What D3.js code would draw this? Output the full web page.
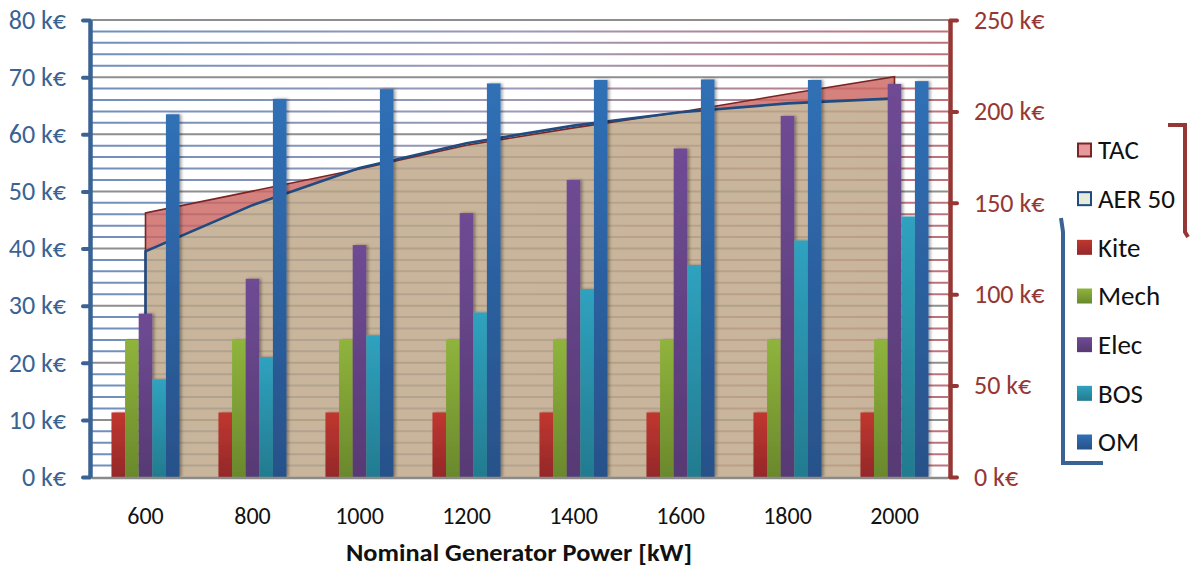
<!DOCTYPE html>
<html>
<head>
<meta charset="utf-8">
<script src="https://cdn.jsdelivr.net/npm/d3@7"></script>
<style>
  html, body { margin: 0; padding: 0; background: #fff; }
  svg { display: block; font-family: Carlito, Lato, "Open Sans", sans-serif; }
</style>
</head>
<body>
<svg id="chart" width="1192" height="568"></svg>
<script>
// ---- data ----
const categories = ["600", "800", "1000", "1200", "1400", "1600", "1800", "2000"];
const kite = [11.3, 11.3, 11.3, 11.3, 11.3, 11.3, 11.3, 11.3];
const mech = [24.0, 24.0, 24.0, 24.0, 24.0, 24.0, 24.0, 24.0];
const elec = [28.6, 34.7, 40.6, 46.2, 52.0, 57.5, 63.2, 68.8];
const bos  = [17.1, 21.0, 24.8, 28.8, 32.9, 37.1, 41.4, 45.6];
const om   = [63.5, 66.2, 67.9, 68.9, 69.5, 69.6, 69.5, 69.3];
const tac   = [144.5, 156.4, 168.5, 181.5, 191.0, 199.7, 209.5, 219.0];
const aer50 = [123.5, 148.7, 169.0, 182.6, 192.2, 199.5, 204.4, 207.1];
const barSeries = ["Kite", "Mech", "Elec", "BOS", "OM"];
const leftTicks = [0, 10, 20, 30, 40, 50, 60, 70, 80];
const rightTicks = [0, 50, 100, 150, 200, 250];
const legendNames = ["TAC", "AER 50", "Kite", "Mech", "Elec", "BOS", "OM"];
const xTitle = "Nominal Generator Power [kW]";

const barData = [kite, mech, elec, bos, om];
const barColors = {
  Kite: ["#c0372f", "#94282a"],
  Mech: ["#8fb43c", "#6a882c"],
  Elec: ["#6f4b94", "#573a74"],
  BOS:  ["#2fa2bf", "#237b8f"],
  OM:   ["#3070b6", "#285189"]
};

// ---- layout ----
const svg = d3.select("#chart");
const L = 92, R = 948, T = 20, B = 477;

const x = d3.scaleBand().domain(categories).range([L, R]).paddingInner(0.364).paddingOuter(0.182);
const xs = d3.scaleBand().domain(barSeries).range([0, x.bandwidth()]);
const yL = d3.scaleLinear().domain([0, 80]).range([B, T]);
const yR = d3.scaleLinear().domain([0, 250]).range([B, T]);
const cx = c => x(c) + x.bandwidth() / 2;

const defs = svg.append("defs");
const gg = defs.append("linearGradient").attr("id", "gridGrad")
  .attr("gradientUnits", "userSpaceOnUse").attr("x1", L).attr("x2", R).attr("y1", 0).attr("y2", 0);
gg.append("stop").attr("offset", 0).attr("stop-color", "#587cb2");
gg.append("stop").attr("offset", 0.5).attr("stop-color", "#8c88aa");
gg.append("stop").attr("offset", 1).attr("stop-color", "#b65862");

barSeries.forEach(s => {
  const g = defs.append("linearGradient").attr("id", "bg" + s).attr("x1", 0).attr("x2", 0).attr("y1", 0).attr("y2", 1);
  g.append("stop").attr("offset", 0).attr("stop-color", barColors[s][0]);
  g.append("stop").attr("offset", 1).attr("stop-color", barColors[s][1]);
});
const sh = defs.append("filter").attr("id", "shadow").attr("x", "-50%").attr("y", "-10%").attr("width", "200%").attr("height", "120%");
sh.append("feDropShadow").attr("dx", 2).attr("dy", 0).attr("stdDeviation", 1.6)
  .attr("flood-color", "#000").attr("flood-opacity", 0.35);

// ---- gridlines ----
const minor = d3.range(0, 80.001, 2).filter(v => v % 10 !== 0);
svg.append("g").selectAll("line").data(minor).join("line")
  .attr("x1", L).attr("x2", R).attr("y1", d => yL(d)).attr("y2", d => yL(d))
  .attr("stroke", "url(#gridGrad)").attr("stroke-width", 2).attr("opacity", 0.85);
svg.append("g").selectAll("line").data(leftTicks.filter(v => v > 0)).join("line")
  .attr("x1", L).attr("x2", R).attr("y1", d => yL(d)).attr("y2", d => yL(d))
  .attr("stroke", "#8e8e8e").attr("stroke-width", 2);

// ---- areas ----
const idx = categories.map((c, i) => i);
const areaOf = arr => d3.area().x(i => cx(categories[i])).y0(yR(0)).y1(i => yR(arr[i]))(idx);
defs.append("clipPath").attr("id", "tacClip").append("path").attr("d", areaOf(tac));

const ag = svg.append("g").attr("opacity", 0.82);
ag.append("path").attr("d", areaOf(tac)).attr("fill", "#cc6764");
ag.append("path").attr("d", areaOf(aer50)).attr("fill", "#dbe3c8");
ag.append("path").attr("d", areaOf(aer50)).attr("fill", "#bca686").attr("clip-path", "url(#tacClip)");

const outline = arr => {
  const p = d3.path();
  p.moveTo(cx(categories[0]), yR(0));
  idx.forEach(i => p.lineTo(cx(categories[i]), yR(arr[i])));
  p.lineTo(cx(categories[categories.length - 1]), yR(0));
  return p.toString();
};
svg.append("path").attr("d", outline(tac)).attr("fill", "none").attr("stroke", "#7a2424").attr("stroke-width", 1.6);
svg.append("path").attr("d", outline(aer50)).attr("fill", "none").attr("stroke", "#1f4b80").attr("stroke-width", 2.6);

// ---- bars ----
const bg = svg.append("g").attr("filter", "url(#shadow)");
barSeries.forEach((s, si) => {
  bg.append("g").selectAll("rect").data(categories).join("rect")
    .attr("x", c => x(c) + xs(s))
    .attr("width", xs.bandwidth())
    .attr("y", (c, i) => yL(barData[si][i]))
    .attr("height", (c, i) => yL(0) - yL(barData[si][i]))
    .attr("fill", "url(#bg" + s + ")");
});

// ---- base line ----
svg.append("line").attr("x1", L).attr("x2", R).attr("y1", B + 1).attr("y2", B + 1)
  .attr("stroke", "#8a8a8a").attr("stroke-width", 2.5);

// ---- axes ----
const leftCol = "#3a6394", rightCol = "#953735";
const ax = svg.append("g").attr("transform", `translate(${L - 2},0)`)
  .call(d3.axisLeft(yL).tickValues(leftTicks).tickSize(7).tickSizeOuter(0).tickPadding(17).tickFormat(d => d + " k€"));
ax.select(".domain").attr("stroke", leftCol).attr("stroke-width", 4.5);
ax.selectAll(".tick line").attr("stroke", leftCol).attr("stroke-width", 4).attr("stroke-linecap", "round");
ax.selectAll(".tick text").attr("fill", leftCol).attr("font-size", 26).attr("font-family", "Carlito, Lato, sans-serif");

const ar = svg.append("g").attr("transform", `translate(${R + 2},0)`)
  .call(d3.axisRight(yR).tickValues(rightTicks).tickSize(7).tickSizeOuter(0).tickPadding(17).tickFormat(d => d + " k€"));
ar.select(".domain").attr("stroke", rightCol).attr("stroke-width", 4.5);
ar.selectAll(".tick line").attr("stroke", rightCol).attr("stroke-width", 4).attr("stroke-linecap", "round");
ar.selectAll(".tick text").attr("fill", rightCol).attr("font-size", 26).attr("font-family", "Carlito, Lato, sans-serif");

const axb = svg.append("g").attr("transform", `translate(0,${B})`)
  .call(d3.axisBottom(x).tickSize(0).tickPadding(30));
axb.select(".domain").remove();
axb.selectAll(".tick text").attr("fill", "#111").attr("font-size", 24).attr("font-family", "Carlito, Lato, sans-serif");

svg.append("text").attr("x", (L + R) / 2 - 1).attr("y", 561).attr("text-anchor", "middle")
  .attr("font-size", 25).attr("font-weight", "bold").attr("fill", "#111")
  .attr("textLength", 346).attr("lengthAdjust", "spacingAndGlyphs")
  .text(xTitle);

// ---- legend ----
const lg = svg.append("g");
lg.append("path").attr("d", "M1168,125 L1185,125 L1185,232 L1188,237")
  .attr("fill", "none").attr("stroke", "#953735").attr("stroke-width", 4);
lg.append("path").attr("d", "M1061,218 L1063,232 L1063,463 L1103,463")
  .attr("fill", "none").attr("stroke", "#3a6394").attr("stroke-width", 4);
const ly = d3.scalePoint().domain(legendNames).range([150, 442]);
legendNames.forEach(n => {
  const yy = ly(n);
  const r = lg.append("rect").attr("x", 1077).attr("y", yy - 7.5).attr("width", 15).attr("height", 15);
  if (n === "TAC") r.attr("fill", "#e6989a").attr("stroke", "#7a2424").attr("stroke-width", 2).attr("x", 1078).attr("y", yy - 6.5).attr("width", 13).attr("height", 13);
  else if (n === "AER 50") r.attr("fill", "#e5ecd9").attr("stroke", "#1f4b80").attr("stroke-width", 2).attr("x", 1078).attr("y", yy - 6.5).attr("width", 13).attr("height", 13);
  else r.attr("fill", "url(#bg" + n + ")");
  lg.append("text").attr("x", 1098).attr("y", yy).attr("dy", "0.35em")
    .attr("font-size", 27).attr("fill", "#111").text(n);
});
</script>
</body>
</html>
